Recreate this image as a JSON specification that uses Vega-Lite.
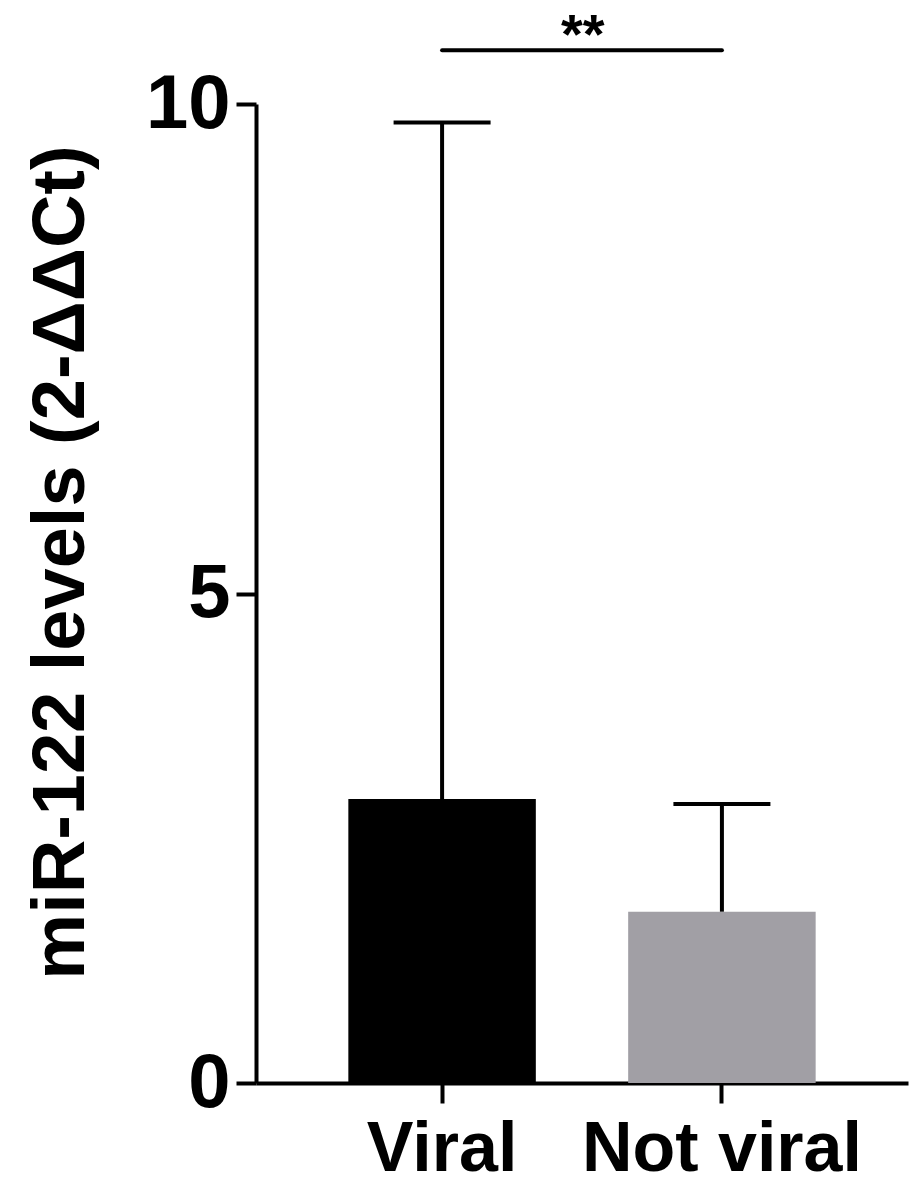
{
  "$schema": "https://vega.github.io/schema/vega-lite/v6.json",
  "autosize": {"type": "none"},
  "padding": {"left": 256, "top": 104, "right": 16, "bottom": 120},
  "width": 652,
  "height": 979,
  "background": "white",
  "config": {"view": {"stroke": null}, "font": "Liberation Sans"},
  "datasets": {
    "bars": [
      {"group": "Viral", "mean": 2.9, "upper": 9.81},
      {"group": "Not viral", "mean": 1.75, "upper": 2.85}
    ],
    "sig": [
      {"from": "Viral", "to": "Not viral", "y": 10.55, "label": "**"}
    ]
  },
  "layer": [
    {
      "data": {"name": "bars"},
      "mark": {"type": "bar"},
      "encoding": {
        "x": {
          "field": "group", "type": "nominal", "sort": null,
          "scale": {"domain": ["Viral", "Not viral"], "paddingInner": 0.33, "paddingOuter": 0.33},
          "axis": {
            "title": null, "labelAngle": 0, "labelFont": "Liberation Sans", "labelFontWeight": "bold",
            "labelFontSize": 70, "labelColor": "black", "labelPadding": 12, "labelLimit": 0, "labelDx": -9,
            "domainColor": "black", "domainWidth": 4, "tickColor": "black", "tickWidth": 4, "tickSize": 20
          }
        },
        "y": {
          "field": "mean", "type": "quantitative",
          "scale": {"domain": [0, 10], "nice": false},
          "axis": {
            "title": "miR-122 levels (2-ΔΔCt)", "titleFont": "Liberation Sans", "titleFontWeight": "bold",
            "titleFontSize": 74, "titleColor": "black", "titlePadding": 46, "titleY": 458,
            "values": [0, 5, 10], "format": "d", "grid": false, "labelFont": "Liberation Sans", "labelFontWeight": "bold",
            "labelFontSize": 76, "labelColor": "black", "labelPadding": 6,
            "domainColor": "black", "domainWidth": 4, "tickColor": "black", "tickWidth": 4, "tickSize": 20
          }
        },
        "color": {
          "field": "group", "type": "nominal",
          "scale": {"domain": ["Viral", "Not viral"], "range": ["#000000", "#a19fa5"]},
          "legend": null
        }
      }
    },
    {
      "data": {"name": "bars"},
      "mark": {"type": "rule", "color": "black", "strokeWidth": 4, "opacity": 1},
      "encoding": {
        "x": {"field": "group", "type": "nominal", "sort": null},
        "y": {"field": "mean", "type": "quantitative"},
        "y2": {"field": "upper"}
      }
    },
    {
      "data": {"name": "bars"},
      "mark": {"type": "tick", "color": "black", "thickness": 4, "size": 97, "orient": "horizontal", "opacity": 1},
      "encoding": {
        "x": {"field": "group", "type": "nominal", "sort": null},
        "y": {"field": "upper", "type": "quantitative"}
      }
    },
    {
      "data": {"name": "sig"},
      "mark": {"type": "rule", "color": "black", "strokeWidth": 4, "strokeCap": "round", "opacity": 1},
      "encoding": {
        "x": {"field": "from", "type": "nominal", "sort": null},
        "x2": {"field": "to"},
        "y": {"field": "y", "type": "quantitative"}
      }
    },
    {
      "data": {"name": "sig"},
      "mark": {"type": "text", "font": "Liberation Sans", "fontWeight": "bold", "fontSize": 56, "baseline": "top", "align": "center", "dy": -41, "color": "black"},
      "encoding": {
        "x": {"field": "from", "type": "nominal", "sort": null, "bandPosition": 1.25},
        "y": {"field": "y", "type": "quantitative"},
        "text": {"field": "label"}
      }
    }
  ]
}
